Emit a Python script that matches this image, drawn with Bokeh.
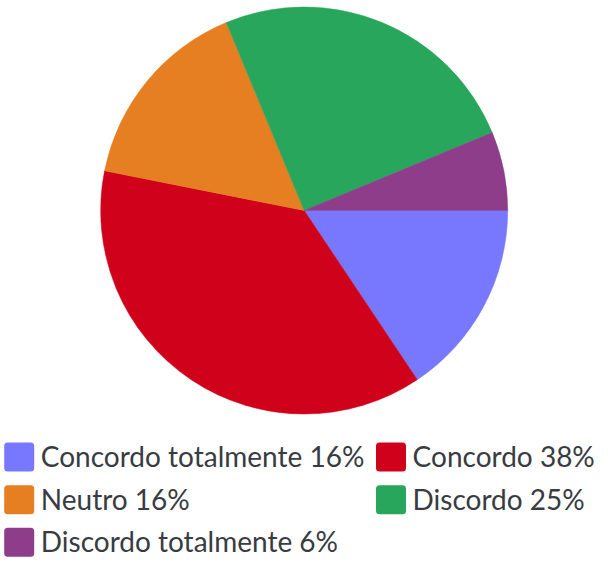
import math
from bokeh.plotting import figure
from bokeh.models import Range1d, ColumnDataSource
from bokeh.core.properties import value
from bokeh.embed import file_html
from bokeh.resources import INLINE

# ---- data ----
categories = ["Concordo totalmente", "Concordo", "Neutro", "Discordo", "Discordo totalmente"]
counts = [5, 12, 5, 8, 2]
colors = ["#7878ff", "#d0021b", "#e67e22", "#27a65c", "#8e3d8a"]

# ---- layout constants (plot pixels from top-left) ----
W, H = 598, 560
cx, cy, R = 303.7, H - 210.0, 203.5
col_x = [3.7, 375.5]               # left edge of legend swatch per column
row_top = [442.0, 484.7, 527.3]    # top of legend swatch per row
sw, sh = 30, 29
text_shift = 11.0                  # empirical baseline correction

total = sum(counts)
starts, ends, labels = [], [], []
acc = 0
for c, cat in zip(counts, categories):
    starts.append(-2 * math.pi * acc / total)
    acc += c
    ends.append(-2 * math.pi * acc / total)
    labels.append(f"{cat} {int(100 * c / total + 0.5)}%")

p = figure(width=W, height=H, output_backend="svg", toolbar_location=None,
           x_range=Range1d(0, W), y_range=Range1d(0, H), min_border=0)
p.axis.visible = False
p.grid.visible = False
p.outline_line_color = None
p.background_fill_color = "white"
p.border_fill_color = "white"

src = ColumnDataSource(dict(start=starts, end=ends, color=colors, label=labels))
p.wedge(x=cx, y=cy, radius=R, start_angle="start", end_angle="end",
        direction="clock", fill_color="color", line_color="color", line_width=0.5,
        source=src)

# legend (grid of 2 columns, filled row-wise)
lx, ly, tx, ty = [], [], [], []
for i in range(len(labels)):
    col, row = i % 2, i // 2
    top = row_top[row]
    lx.append(col_x[col] + sw / 2)
    ly.append(H - (top + sh / 2))
    tx.append(col_x[col] + sw + 6.6)
    ty.append(H - (top + 24.3) + text_shift)
lsrc = ColumnDataSource(dict(x=lx, y=ly, tx=tx, ty=ty, color=colors, label=labels))
p.rect(x="x", y="y", width=sw - 7, height=sh - 7, width_units="screen", height_units="screen",
       fill_color="color", line_color="color", line_width=7, line_join="round", source=lsrc)
p.text(x="tx", y="ty", text="label", source=lsrc, text_font=value("Lato"),
       text_font_size="28px", text_color="#383c42", text_baseline="alphabetic",
       text_align="left")

open("out.html", "w").write(file_html(p, INLINE))
